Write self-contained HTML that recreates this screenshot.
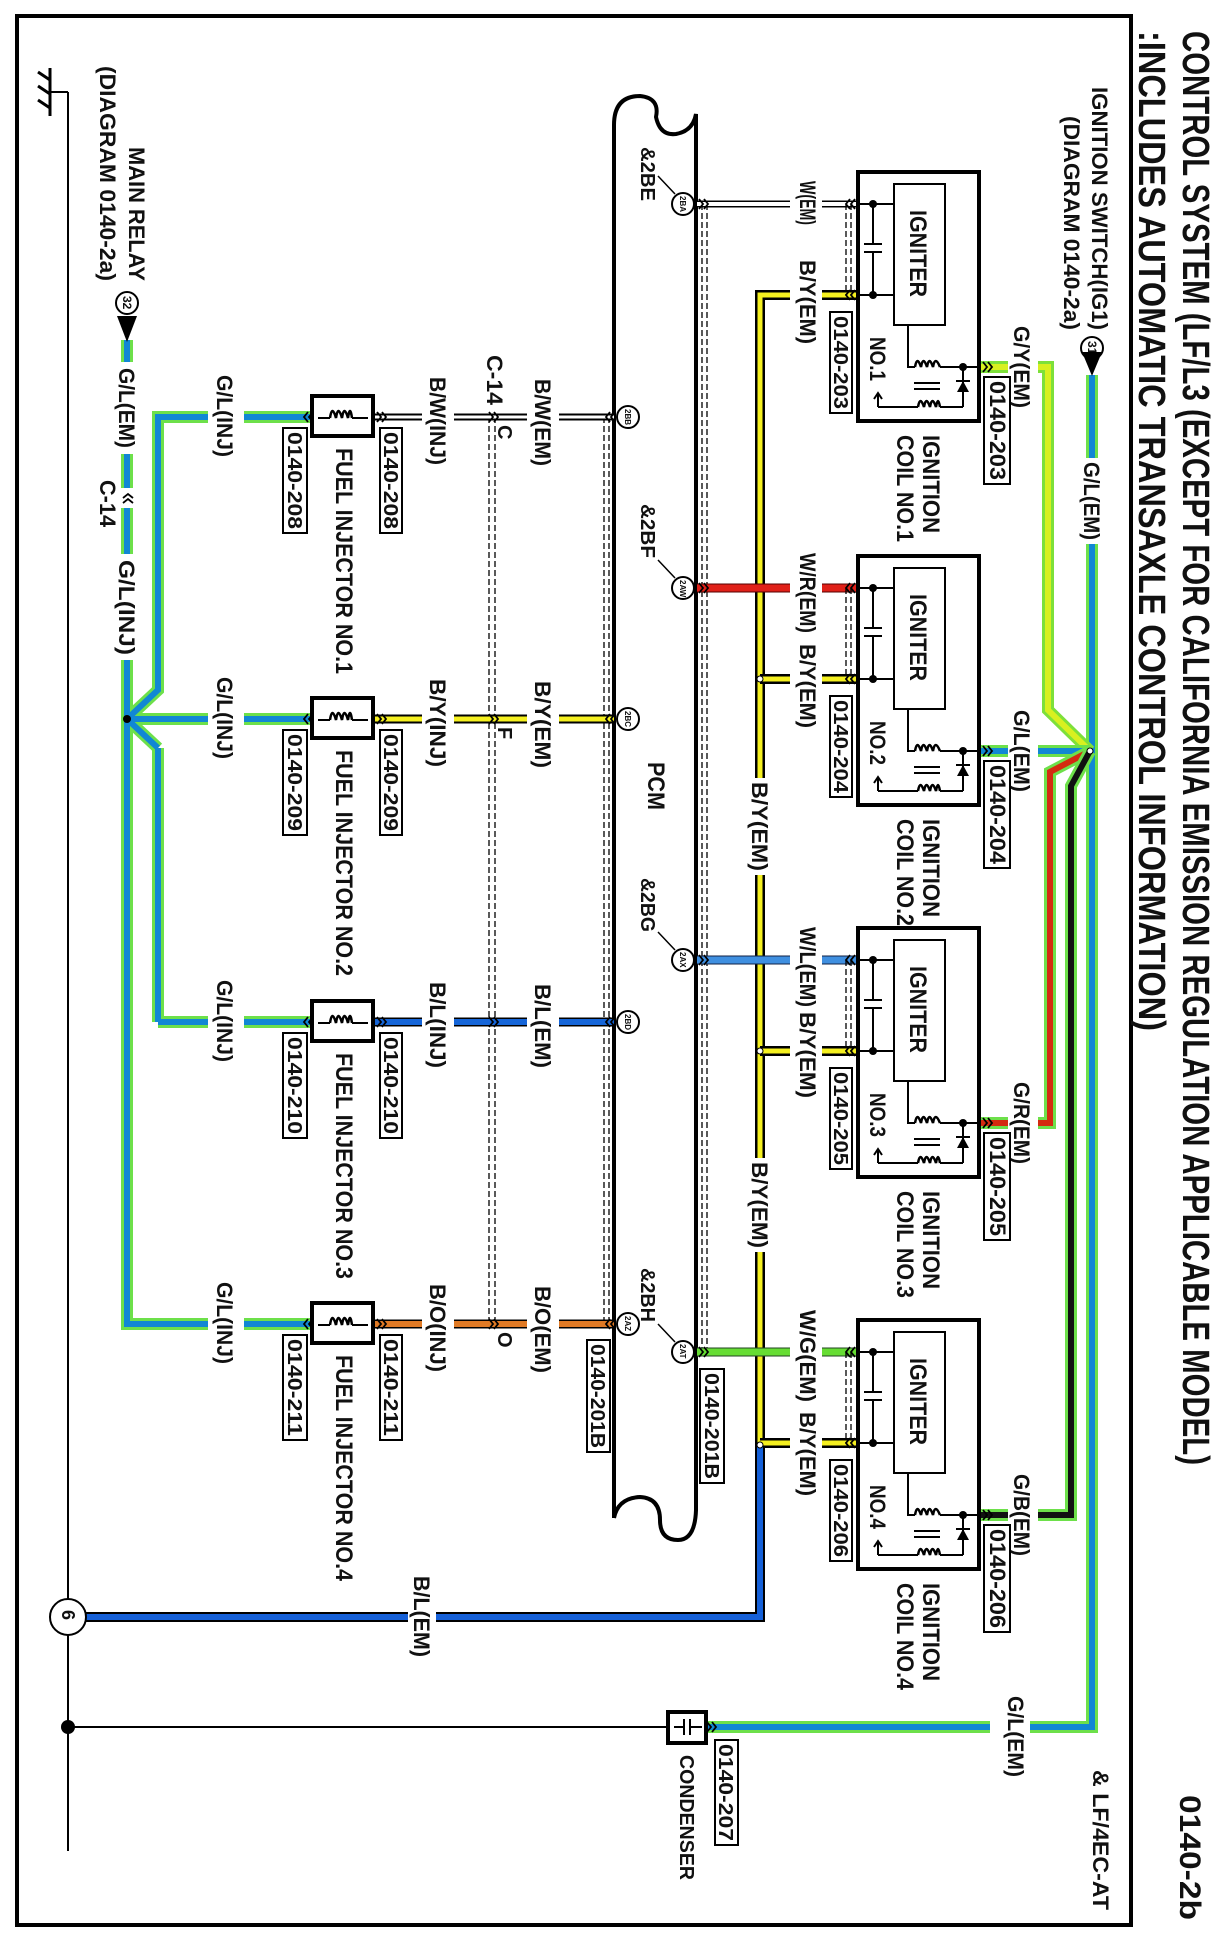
<!DOCTYPE html>
<html><head><meta charset="utf-8"><style>
html,body{margin:0;padding:0;background:#fff}
svg{display:block;font-family:"Liberation Sans",Arial,sans-serif;font-weight:bold}
.t{fill:#111}
.ln{fill:none;stroke:#000}
.d{fill:none;stroke:#000;stroke-width:1.3;stroke-dasharray:6 3}
.gap{fill:#fff}
.bx{fill:#fff;stroke:#000;stroke-width:2}
</style></head><body>
<svg width="1224" height="1953" viewBox="0 0 1224 1953" xmlns="http://www.w3.org/2000/svg">
<defs>
<g id="chR"><polyline points="-5,-5 -1,0 -5,5" fill="none" stroke="#000" stroke-width="1.8"/><polyline points="0,-5 4,0 0,5" fill="none" stroke="#000" stroke-width="1.8"/></g>
<g id="chL"><polyline points="5,-5 1,0 5,5" fill="none" stroke="#000" stroke-width="1.8"/><polyline points="0,-5 -4,0 0,5" fill="none" stroke="#000" stroke-width="1.8"/></g>
</defs>
<rect x="0" y="0" width="1224" height="1953" fill="#fff"/>
<rect x="17" y="16" width="1114" height="1909" fill="none" stroke="#000" stroke-width="4"/>

<text class="t" transform="translate(1183,31) rotate(90)" font-size="38" textLength="1434" lengthAdjust="spacingAndGlyphs">CONTROL SYSTEM (LF/L3 (EXCEPT FOR CALIFORNIA EMISSION REGULATION APPLICABLE MODEL)</text>
<text class="t" transform="translate(1139,31) rotate(90)" font-size="38" textLength="1000" lengthAdjust="spacingAndGlyphs">:INCLUDES AUTOMATIC TRANSAXLE CONTROL INFORMATION)</text>
<text class="t" transform="translate(1180,1795) rotate(90)" font-size="30" textLength="125" lengthAdjust="spacingAndGlyphs">0140-2b</text>
<text class="t" transform="translate(1093,1770) rotate(90)" font-size="22" textLength="140" lengthAdjust="spacingAndGlyphs">&amp; LF/4EC-AT</text>

<text class="t" transform="translate(1092,87) rotate(90)" font-size="22" textLength="243" lengthAdjust="spacingAndGlyphs">IGNITION SWITCH(IG1)</text>
<text class="t" transform="translate(1064,116) rotate(90)" font-size="22" textLength="214" lengthAdjust="spacingAndGlyphs">(DIAGRAM 0140-2a)</text>
<circle cx="1092" cy="348" r="11" fill="#fff" stroke="#000" stroke-width="2"/>
<text class="t" transform="translate(1088,341) rotate(90)" font-size="12">31</text>

<path class="ln" stroke-width="4" d="M614,1518 L614,125 Q614,96 640,96 Q660,98 656,117 Q660,136 676,134 Q693,131 696,114 L696,1510 Q695,1540 678,1540 Q660,1540 660,1520 Q660,1498 640,1497 Q618,1498 614,1518"/>
<text class="t" transform="translate(648,762) rotate(90)" font-size="24" textLength="48" lengthAdjust="spacingAndGlyphs">PCM</text>

<line class="d" x1="702" y1="204" x2="702" y2="1352"/><line class="d" x1="707" y1="204" x2="707" y2="1352"/>
<line class="d" x1="604" y1="417" x2="604" y2="1324"/><line class="d" x1="609" y1="417" x2="609" y2="1324"/>
<line class="d" x1="489" y1="417" x2="489" y2="1324"/><line class="d" x1="495" y1="417" x2="495" y2="1324"/>

<g fill="none" stroke-linejoin="miter">
<polyline points="1092,375 1092,1727 707,1727" stroke="#6de04a" stroke-width="12"/>
<polyline points="1092,375 1092,1727 707,1727" stroke="#1187d4" stroke-width="6"/>
<polyline points="980,367 1048,367 1048,710 1090,751" stroke="#7de03a" stroke-width="12"/>
<polyline points="980,367 1048,367 1048,710 1090,751" stroke="#d8f020" stroke-width="6"/>
<polyline points="980,751 1090,751" stroke="#6de04a" stroke-width="12"/>
<polyline points="980,751 1090,751" stroke="#1187d4" stroke-width="6"/>
<polyline points="980,1123 1050,1123 1050,772 1090,751" stroke="#6de04a" stroke-width="12"/>
<polyline points="980,1123 1050,1123 1050,772 1090,751" stroke="#d42a10" stroke-width="6"/>
<polyline points="980,1515 1071,1515 1071,786 1090,751" stroke="#6de04a" stroke-width="12"/>
<polyline points="980,1515 1071,1515 1071,786 1090,751" stroke="#111" stroke-width="6"/>
</g>
<circle cx="1090" cy="751" r="3" fill="#fff" stroke="#000"/>
<g class="gap"><rect x="1008" y="358" width="30" height="18"/><rect x="1008" y="742" width="30" height="18"/><rect x="1008" y="1114" width="30" height="18"/><rect x="1008" y="1506" width="30" height="18"/></g>
<polygon points="1082,352 1102,352 1092,376" fill="#000"/>
<rect class="gap" x="1080" y="458" width="24" height="86"/>
<text class="t" transform="translate(1084,462) rotate(90)" font-size="22" textLength="78" lengthAdjust="spacingAndGlyphs">G/L(EM)</text>
<rect class="gap" x="990" y="1719" width="40" height="16"/>
<text class="t" transform="translate(1008,1696) rotate(90)" font-size="22" textLength="81" lengthAdjust="spacingAndGlyphs">G/L(EM)</text>

<g fill="none">
<polyline points="858,295 760,295 760,1446" stroke="#000" stroke-width="10"/>
<polyline points="858,295 760,295 760,1446" stroke="#f5f020" stroke-width="5"/>
<path d="M858,679 L760,679 M858,1051 L760,1051 M858,1443 L760,1443" stroke="#000" stroke-width="10"/>
<path d="M858,679 L760,679 M858,1051 L760,1051 M858,1443 L760,1443" stroke="#f5f020" stroke-width="5"/>
<polyline points="760,1446 760,1617 86,1617" stroke="#000" stroke-width="10"/>
<polyline points="760,1446 760,1617 86,1617" stroke="#1560d8" stroke-width="6"/>
</g>
<circle cx="760" cy="679" r="3" fill="#fff" stroke="#000"/>
<circle cx="760" cy="1051" r="3" fill="#fff" stroke="#000"/>
<circle cx="760" cy="1445" r="3" fill="#fff" stroke="#000"/>
<rect class="gap" x="748" y="778" width="24" height="97"/>
<text class="t" transform="translate(752,782) rotate(90)" font-size="22" textLength="89" lengthAdjust="spacingAndGlyphs">B/Y(EM)</text>
<rect class="gap" x="748" y="1158" width="24" height="94"/>
<text class="t" transform="translate(752,1162) rotate(90)" font-size="22" textLength="86" lengthAdjust="spacingAndGlyphs">B/Y(EM)</text>
<rect class="gap" x="408" y="1609" width="28" height="16"/>
<text class="t" transform="translate(414,1576) rotate(90)" font-size="22" textLength="81" lengthAdjust="spacingAndGlyphs">B/L(EM)</text>

<g fill="none">
<path d="M697,204 L858,204" stroke="#000" stroke-width="7"/><path d="M697,204 L858,204" stroke="#fff" stroke-width="4"/>
<path d="M697,588 L858,588" stroke="#500" stroke-width="9"/><path d="M697,588 L858,588" stroke="#e02018" stroke-width="7"/>
<path d="M697,960 L858,960" stroke="#124" stroke-width="9"/><path d="M697,960 L858,960" stroke="#3f8fe0" stroke-width="7"/>
<path d="M697,1352 L858,1352" stroke="#242" stroke-width="9"/><path d="M697,1352 L858,1352" stroke="#66dd33" stroke-width="7"/>
</g>
<g class="gap"><rect x="790" y="196" width="32" height="16"/><rect x="790" y="287" width="32" height="16"/>
<rect x="790" y="580" width="32" height="16"/><rect x="790" y="671" width="32" height="16"/>
<rect x="790" y="952" width="32" height="16"/><rect x="790" y="1043" width="32" height="16"/>
<rect x="790" y="1344" width="32" height="16"/><rect x="790" y="1435" width="32" height="16"/></g>
<text class="t" transform="translate(800,181) rotate(90)" font-size="22" textLength="44" lengthAdjust="spacingAndGlyphs">W(EM)</text>
<text class="t" transform="translate(800,260) rotate(90)" font-size="22" textLength="84" lengthAdjust="spacingAndGlyphs">B/Y(EM)</text>
<text class="t" transform="translate(800,553) rotate(90)" font-size="22" textLength="80" lengthAdjust="spacingAndGlyphs">W/R(EM)</text>
<text class="t" transform="translate(800,644) rotate(90)" font-size="22" textLength="84" lengthAdjust="spacingAndGlyphs">B/Y(EM)</text>
<text class="t" transform="translate(800,927) rotate(90)" font-size="22" textLength="80" lengthAdjust="spacingAndGlyphs">W/L(EM)</text>
<text class="t" transform="translate(800,1012) rotate(90)" font-size="22" textLength="86" lengthAdjust="spacingAndGlyphs">B/Y(EM)</text>
<text class="t" transform="translate(800,1310) rotate(90)" font-size="22" textLength="92" lengthAdjust="spacingAndGlyphs">W/G(EM)</text>
<text class="t" transform="translate(800,1412) rotate(90)" font-size="22" textLength="84" lengthAdjust="spacingAndGlyphs">B/Y(EM)</text>

<g><line class="d" x1="846" y1="204" x2="846" y2="295"/><line class="d" x1="851" y1="204" x2="851" y2="295"/>
<line class="d" x1="846" y1="588" x2="846" y2="679"/><line class="d" x1="851" y1="588" x2="851" y2="679"/>
<line class="d" x1="846" y1="960" x2="846" y2="1051"/><line class="d" x1="851" y1="960" x2="851" y2="1051"/>
<line class="d" x1="846" y1="1352" x2="846" y2="1443"/><line class="d" x1="851" y1="1352" x2="851" y2="1443"/></g>

<g id="coil1">
<rect x="858" y="172" width="121" height="249" fill="none" stroke="#000" stroke-width="4"/>
<rect x="894" y="184" width="51" height="141" fill="none" stroke="#000" stroke-width="2"/>
<path class="ln" stroke-width="2" d="M858,204H894M858,295H894M873,204V244M864,244H882M864,252H882M873,252V295M908,325V367H915M940,367H978M963,367V407M878,407H918M940,407H963M878,407V395M874,399L878,393L882,399M914,383H940M914,389H940"/>
<path class="ln" stroke-width="2.5" d="M915,367q2,-12 6,0q2,-12 6,0q2,-12 6,0q2,-12 7,0M918,407q2,-12 6,0q2,-12 6,0q2,-12 6,0q2,-12 4,0"/>
<polygon points="957,392 969,392 963,381" fill="#000"/><line x1="956" y1="381" x2="970" y2="381" stroke="#000" stroke-width="2"/>
<circle cx="873" cy="204" r="4"/><circle cx="873" cy="295" r="4"/><circle cx="963" cy="367" r="4"/>
</g>
<use href="#coil1" y="384"/><use href="#coil1" y="756"/><use href="#coil1" y="1148"/>
<g class="t">
<text transform="translate(910,210) rotate(90)" font-size="24" textLength="87" lengthAdjust="spacingAndGlyphs">IGNITER</text>
<text transform="translate(910,594) rotate(90)" font-size="24" textLength="87" lengthAdjust="spacingAndGlyphs">IGNITER</text>
<text transform="translate(910,966) rotate(90)" font-size="24" textLength="87" lengthAdjust="spacingAndGlyphs">IGNITER</text>
<text transform="translate(910,1358) rotate(90)" font-size="24" textLength="87" lengthAdjust="spacingAndGlyphs">IGNITER</text>
<text transform="translate(870,337) rotate(90)" font-size="22" textLength="44" lengthAdjust="spacingAndGlyphs">NO.1</text>
<text transform="translate(870,721) rotate(90)" font-size="22" textLength="44" lengthAdjust="spacingAndGlyphs">NO.2</text>
<text transform="translate(870,1093) rotate(90)" font-size="22" textLength="44" lengthAdjust="spacingAndGlyphs">NO.3</text>
<text transform="translate(870,1485) rotate(90)" font-size="22" textLength="44" lengthAdjust="spacingAndGlyphs">NO.4</text>
<text transform="translate(923,435) rotate(90)" font-size="24" textLength="98" lengthAdjust="spacingAndGlyphs">IGNITION</text>
<text transform="translate(897,435) rotate(90)" font-size="24" textLength="107" lengthAdjust="spacingAndGlyphs">COIL NO.1</text>
<text transform="translate(923,819) rotate(90)" font-size="24" textLength="98" lengthAdjust="spacingAndGlyphs">IGNITION</text>
<text transform="translate(897,819) rotate(90)" font-size="24" textLength="107" lengthAdjust="spacingAndGlyphs">COIL NO.2</text>
<text transform="translate(923,1191) rotate(90)" font-size="24" textLength="98" lengthAdjust="spacingAndGlyphs">IGNITION</text>
<text transform="translate(897,1191) rotate(90)" font-size="24" textLength="107" lengthAdjust="spacingAndGlyphs">COIL NO.3</text>
<text transform="translate(923,1583) rotate(90)" font-size="24" textLength="98" lengthAdjust="spacingAndGlyphs">IGNITION</text>
<text transform="translate(897,1583) rotate(90)" font-size="24" textLength="107" lengthAdjust="spacingAndGlyphs">COIL NO.4</text>
<text transform="translate(1014,326) rotate(90)" font-size="22" textLength="82" lengthAdjust="spacingAndGlyphs">G/Y(EM)</text>
<text transform="translate(1014,710) rotate(90)" font-size="22" textLength="82" lengthAdjust="spacingAndGlyphs">G/L(EM)</text>
<text transform="translate(1014,1082) rotate(90)" font-size="22" textLength="82" lengthAdjust="spacingAndGlyphs">G/R(EM)</text>
<text transform="translate(1014,1474) rotate(90)" font-size="22" textLength="82" lengthAdjust="spacingAndGlyphs">G/B(EM)</text>
</g>
<g>
<rect class="bx" x="830" y="312" width="22" height="101"/><text class="t" transform="translate(834,316) rotate(90)" font-size="20" textLength="93" lengthAdjust="spacingAndGlyphs">0140-203</text>
<rect class="bx" x="830" y="696" width="22" height="101"/><text class="t" transform="translate(834,700) rotate(90)" font-size="20" textLength="93" lengthAdjust="spacingAndGlyphs">0140-204</text>
<rect class="bx" x="830" y="1068" width="22" height="101"/><text class="t" transform="translate(834,1072) rotate(90)" font-size="20" textLength="93" lengthAdjust="spacingAndGlyphs">0140-205</text>
<rect class="bx" x="830" y="1460" width="22" height="101"/><text class="t" transform="translate(834,1464) rotate(90)" font-size="20" textLength="93" lengthAdjust="spacingAndGlyphs">0140-206</text>
<rect class="bx" x="984" y="377" width="26" height="107"/><text class="t" transform="translate(990,381) rotate(90)" font-size="22" textLength="99" lengthAdjust="spacingAndGlyphs">0140-203</text>
<rect class="bx" x="984" y="761" width="26" height="107"/><text class="t" transform="translate(990,765) rotate(90)" font-size="22" textLength="99" lengthAdjust="spacingAndGlyphs">0140-204</text>
<rect class="bx" x="984" y="1133" width="26" height="107"/><text class="t" transform="translate(990,1137) rotate(90)" font-size="22" textLength="99" lengthAdjust="spacingAndGlyphs">0140-205</text>
<rect class="bx" x="984" y="1525" width="26" height="107"/><text class="t" transform="translate(990,1529) rotate(90)" font-size="22" textLength="99" lengthAdjust="spacingAndGlyphs">0140-206</text>
</g>
<use href="#chL" x="850" y="204"/><use href="#chL" x="850" y="295"/><use href="#chL" x="850" y="588"/><use href="#chL" x="850" y="679"/>
<use href="#chL" x="850" y="960"/><use href="#chL" x="850" y="1051"/><use href="#chL" x="850" y="1352"/><use href="#chL" x="850" y="1443"/>
<use href="#chR" x="988" y="367"/><use href="#chR" x="988" y="751"/><use href="#chR" x="988" y="1123"/><use href="#chR" x="988" y="1515"/>
<use href="#chR" x="704" y="204"/><use href="#chR" x="704" y="588"/><use href="#chR" x="704" y="960"/><use href="#chR" x="704" y="1352"/>

<g>
<circle cx="683" cy="204" r="11" fill="#fff" stroke="#000" stroke-width="2"/><text class="t" transform="translate(680,196) rotate(90)" font-size="8">2BA</text>
<circle cx="683" cy="588" r="11" fill="#fff" stroke="#000" stroke-width="2"/><text class="t" transform="translate(680,580) rotate(90)" font-size="8">2AW</text>
<circle cx="683" cy="960" r="11" fill="#fff" stroke="#000" stroke-width="2"/><text class="t" transform="translate(680,952) rotate(90)" font-size="8">2AX</text>
<circle cx="683" cy="1352" r="11" fill="#fff" stroke="#000" stroke-width="2"/><text class="t" transform="translate(680,1344) rotate(90)" font-size="8">2AT</text>
<path class="ln" stroke-width="1.5" d="M658,176L675,194M658,560L675,578M658,932L675,950M658,1324L675,1342"/>
<text class="t" transform="translate(641,147) rotate(90)" font-size="20" textLength="54" lengthAdjust="spacingAndGlyphs">&amp;2BE</text>
<text class="t" transform="translate(641,504) rotate(90)" font-size="20" textLength="54" lengthAdjust="spacingAndGlyphs">&amp;2BF</text>
<text class="t" transform="translate(641,878) rotate(90)" font-size="20" textLength="54" lengthAdjust="spacingAndGlyphs">&amp;2BG</text>
<text class="t" transform="translate(641,1268) rotate(90)" font-size="20" textLength="54" lengthAdjust="spacingAndGlyphs">&amp;2BH</text>
</g>
<rect class="bx" x="700" y="1369" width="24" height="114"/><text class="t" transform="translate(705,1373) rotate(90)" font-size="20" textLength="106" lengthAdjust="spacingAndGlyphs">0140-201B</text>
<rect class="bx" x="587" y="1340" width="23" height="112"/><text class="t" transform="translate(591,1344) rotate(90)" font-size="20" textLength="104" lengthAdjust="spacingAndGlyphs">0140-201B</text>

<g fill="none">
<path d="M614,417H375" stroke="#000" stroke-width="7"/><path d="M614,417H375" stroke="#fff" stroke-width="3"/>
<path d="M614,719H375" stroke="#000" stroke-width="9"/><path d="M614,719H375" stroke="#f5f020" stroke-width="5"/>
<path d="M614,1022H375" stroke="#000" stroke-width="9"/><path d="M614,1022H375" stroke="#1565d8" stroke-width="6"/>
<path d="M614,1324H375" stroke="#000" stroke-width="9"/><path d="M614,1324H375" stroke="#e07a25" stroke-width="6"/>
</g>
<g class="gap"><rect x="527" y="409" width="32" height="16"/><rect x="422" y="409" width="32" height="16"/>
<rect x="527" y="711" width="32" height="16"/><rect x="422" y="711" width="32" height="16"/>
<rect x="527" y="1014" width="32" height="16"/><rect x="422" y="1014" width="32" height="16"/>
<rect x="527" y="1316" width="32" height="16"/><rect x="422" y="1316" width="32" height="16"/></g>
<g class="t">
<text transform="translate(535,379) rotate(90)" font-size="22" textLength="87" lengthAdjust="spacingAndGlyphs">B/W(EM)</text>
<text transform="translate(430,377) rotate(90)" font-size="22" textLength="88" lengthAdjust="spacingAndGlyphs">B/W(INJ)</text>
<text transform="translate(535,681) rotate(90)" font-size="22" textLength="87" lengthAdjust="spacingAndGlyphs">B/Y(EM)</text>
<text transform="translate(430,679) rotate(90)" font-size="22" textLength="88" lengthAdjust="spacingAndGlyphs">B/Y(INJ)</text>
<text transform="translate(535,984) rotate(90)" font-size="22" textLength="84" lengthAdjust="spacingAndGlyphs">B/L(EM)</text>
<text transform="translate(430,982) rotate(90)" font-size="22" textLength="86" lengthAdjust="spacingAndGlyphs">B/L(INJ)</text>
<text transform="translate(535,1286) rotate(90)" font-size="22" textLength="87" lengthAdjust="spacingAndGlyphs">B/O(EM)</text>
<text transform="translate(430,1284) rotate(90)" font-size="22" textLength="88" lengthAdjust="spacingAndGlyphs">B/O(INJ)</text>
<text transform="translate(498,425) rotate(90)" font-size="20">C</text>
<text transform="translate(498,727) rotate(90)" font-size="20">F</text>
<text transform="translate(498,1332) rotate(90)" font-size="20">O</text>
<text transform="translate(487,355) rotate(90)" font-size="22" textLength="50" lengthAdjust="spacingAndGlyphs">C-14</text>
</g>
<g>
<circle cx="628" cy="417" r="11" fill="#fff" stroke="#000" stroke-width="2"/><text class="t" transform="translate(625,409) rotate(90)" font-size="8">2BB</text>
<circle cx="628" cy="719" r="11" fill="#fff" stroke="#000" stroke-width="2"/><text class="t" transform="translate(625,711) rotate(90)" font-size="8">2BC</text>
<circle cx="628" cy="1022" r="11" fill="#fff" stroke="#000" stroke-width="2"/><text class="t" transform="translate(625,1014) rotate(90)" font-size="8">2BD</text>
<circle cx="628" cy="1324" r="11" fill="#fff" stroke="#000" stroke-width="2"/><text class="t" transform="translate(625,1316) rotate(90)" font-size="8">2AZ</text>
</g>
<use href="#chL" x="610" y="417"/><use href="#chL" x="610" y="719"/><use href="#chL" x="610" y="1022"/><use href="#chL" x="610" y="1324"/>
<use href="#chR" x="494" y="417"/><use href="#chR" x="494" y="719"/><use href="#chR" x="494" y="1022"/><use href="#chR" x="494" y="1324"/>
<use href="#chR" x="382" y="417"/><use href="#chR" x="382" y="719"/><use href="#chR" x="382" y="1022"/><use href="#chR" x="382" y="1324"/>

<g fill="none" stroke-linejoin="miter">
<path d="M127,340V1324H312M127,719H312M158,1022H312M158,748V1022M127,719L158,748M127,719L158,690V417H312" stroke="#6de04a" stroke-width="12"/>
<path d="M127,340V1324H312M127,719H312M158,1022H312M158,748V1022M127,719L158,748M127,719L158,690V417H312" stroke="#1187d4" stroke-width="6"/>
</g>
<circle cx="127" cy="719" r="4" fill="#000"/>
<g class="gap"><rect x="208" y="409" width="36" height="16"/><rect x="208" y="711" width="36" height="16"/><rect x="208" y="1014" width="36" height="16"/><rect x="208" y="1316" width="36" height="16"/>
<rect x="115" y="362" width="24" height="92"/><rect x="115" y="554" width="24" height="106"/><rect x="115" y="488" width="24" height="20"/></g>
<use href="#chL" x="128" y="498" transform="rotate(90 128 498)"/>
<g class="t">
<text transform="translate(217,375) rotate(90)" font-size="22" textLength="82" lengthAdjust="spacingAndGlyphs">G/L(INJ)</text>
<text transform="translate(217,677) rotate(90)" font-size="22" textLength="82" lengthAdjust="spacingAndGlyphs">G/L(INJ)</text>
<text transform="translate(217,980) rotate(90)" font-size="22" textLength="82" lengthAdjust="spacingAndGlyphs">G/L(INJ)</text>
<text transform="translate(217,1282) rotate(90)" font-size="22" textLength="82" lengthAdjust="spacingAndGlyphs">G/L(INJ)</text>
<text transform="translate(119,368) rotate(90)" font-size="22" textLength="80" lengthAdjust="spacingAndGlyphs">G/L(EM)</text>
<text transform="translate(119,560) rotate(90)" font-size="22" textLength="95" lengthAdjust="spacingAndGlyphs">G/L(INJ)</text>
<text transform="translate(100,480) rotate(90)" font-size="22" textLength="47" lengthAdjust="spacingAndGlyphs">C-14</text>
<text transform="translate(129,147) rotate(90)" font-size="22" textLength="134" lengthAdjust="spacingAndGlyphs">MAIN RELAY</text>
<text transform="translate(100,66) rotate(90)" font-size="22" textLength="215" lengthAdjust="spacingAndGlyphs">(DIAGRAM 0140-2a)</text>
</g>
<circle cx="127" cy="303" r="11" fill="#fff" stroke="#000" stroke-width="2"/>
<text class="t" transform="translate(123,296) rotate(90)" font-size="12">32</text>
<polygon points="117,316 137,316 127,342" fill="#000"/>

<g id="inj1">
<rect x="312" y="396" width="61" height="40" fill="#fff" stroke="#000" stroke-width="4"/>
<path class="ln" stroke-width="2" d="M318,418H330M352,418H368"/>
<path class="ln" stroke-width="2.5" d="M330,418q2,-14 6,0q2,-14 6,0q2,-14 6,0q2,-14 4,0"/>
</g>
<use href="#inj1" y="302"/><use href="#inj1" y="605"/><use href="#inj1" y="907"/>
<use href="#chL" x="308" y="417"/><use href="#chL" x="308" y="719"/><use href="#chL" x="308" y="1022"/><use href="#chL" x="308" y="1324"/>
<g>
<rect class="bx" x="380" y="428" width="22" height="105"/><text class="t" transform="translate(384,432) rotate(90)" font-size="20" textLength="97" lengthAdjust="spacingAndGlyphs">0140-208</text>
<rect class="bx" x="283" y="428" width="24" height="105"/><text class="t" transform="translate(288,432) rotate(90)" font-size="20" textLength="97" lengthAdjust="spacingAndGlyphs">0140-208</text>
<rect class="bx" x="380" y="730" width="22" height="105"/><text class="t" transform="translate(384,734) rotate(90)" font-size="20" textLength="97" lengthAdjust="spacingAndGlyphs">0140-209</text>
<rect class="bx" x="283" y="730" width="24" height="105"/><text class="t" transform="translate(288,734) rotate(90)" font-size="20" textLength="97" lengthAdjust="spacingAndGlyphs">0140-209</text>
<rect class="bx" x="380" y="1033" width="22" height="105"/><text class="t" transform="translate(384,1037) rotate(90)" font-size="20" textLength="97" lengthAdjust="spacingAndGlyphs">0140-210</text>
<rect class="bx" x="283" y="1033" width="24" height="105"/><text class="t" transform="translate(288,1037) rotate(90)" font-size="20" textLength="97" lengthAdjust="spacingAndGlyphs">0140-210</text>
<rect class="bx" x="380" y="1335" width="22" height="105"/><text class="t" transform="translate(384,1339) rotate(90)" font-size="20" textLength="97" lengthAdjust="spacingAndGlyphs">0140-211</text>
<rect class="bx" x="283" y="1335" width="24" height="105"/><text class="t" transform="translate(288,1339) rotate(90)" font-size="20" textLength="97" lengthAdjust="spacingAndGlyphs">0140-211</text>
</g>
<g class="t">
<text transform="translate(336,448) rotate(90)" font-size="24" textLength="226" lengthAdjust="spacingAndGlyphs">FUEL INJECTOR NO.1</text>
<text transform="translate(336,750) rotate(90)" font-size="24" textLength="226" lengthAdjust="spacingAndGlyphs">FUEL INJECTOR NO.2</text>
<text transform="translate(336,1053) rotate(90)" font-size="24" textLength="226" lengthAdjust="spacingAndGlyphs">FUEL INJECTOR NO.3</text>
<text transform="translate(336,1355) rotate(90)" font-size="24" textLength="226" lengthAdjust="spacingAndGlyphs">FUEL INJECTOR NO.4</text>
</g>

<path class="ln" stroke-width="2" d="M68,92V1851M50,92H68"/>
<path class="ln" stroke-width="3" d="M50,68V116M38,72L50,80M38,86L50,94M38,100L50,108"/>
<circle cx="68" cy="1617" r="18" fill="#fff" stroke="#000" stroke-width="2"/>
<text class="t" transform="translate(62,1610) rotate(90)" font-size="18">6</text>
<circle cx="68" cy="1727" r="7" fill="#000"/>
<path class="ln" stroke-width="2" d="M68,1727H668"/>
<rect x="668" y="1712" width="38" height="31" fill="#fff" stroke="#000" stroke-width="4"/>
<path class="ln" stroke-width="2" d="M674,1727H684M684,1719V1735M690,1719V1735M690,1727H702"/>
<use href="#chR" x="712" y="1727"/>
<rect class="bx" x="715" y="1740" width="23" height="105"/><text class="t" transform="translate(719,1744) rotate(90)" font-size="20" textLength="97" lengthAdjust="spacingAndGlyphs">0140-207</text>
<text class="t" transform="translate(680,1755) rotate(90)" font-size="20" textLength="125" lengthAdjust="spacingAndGlyphs">CONDENSER</text>
</svg>
</body></html>
